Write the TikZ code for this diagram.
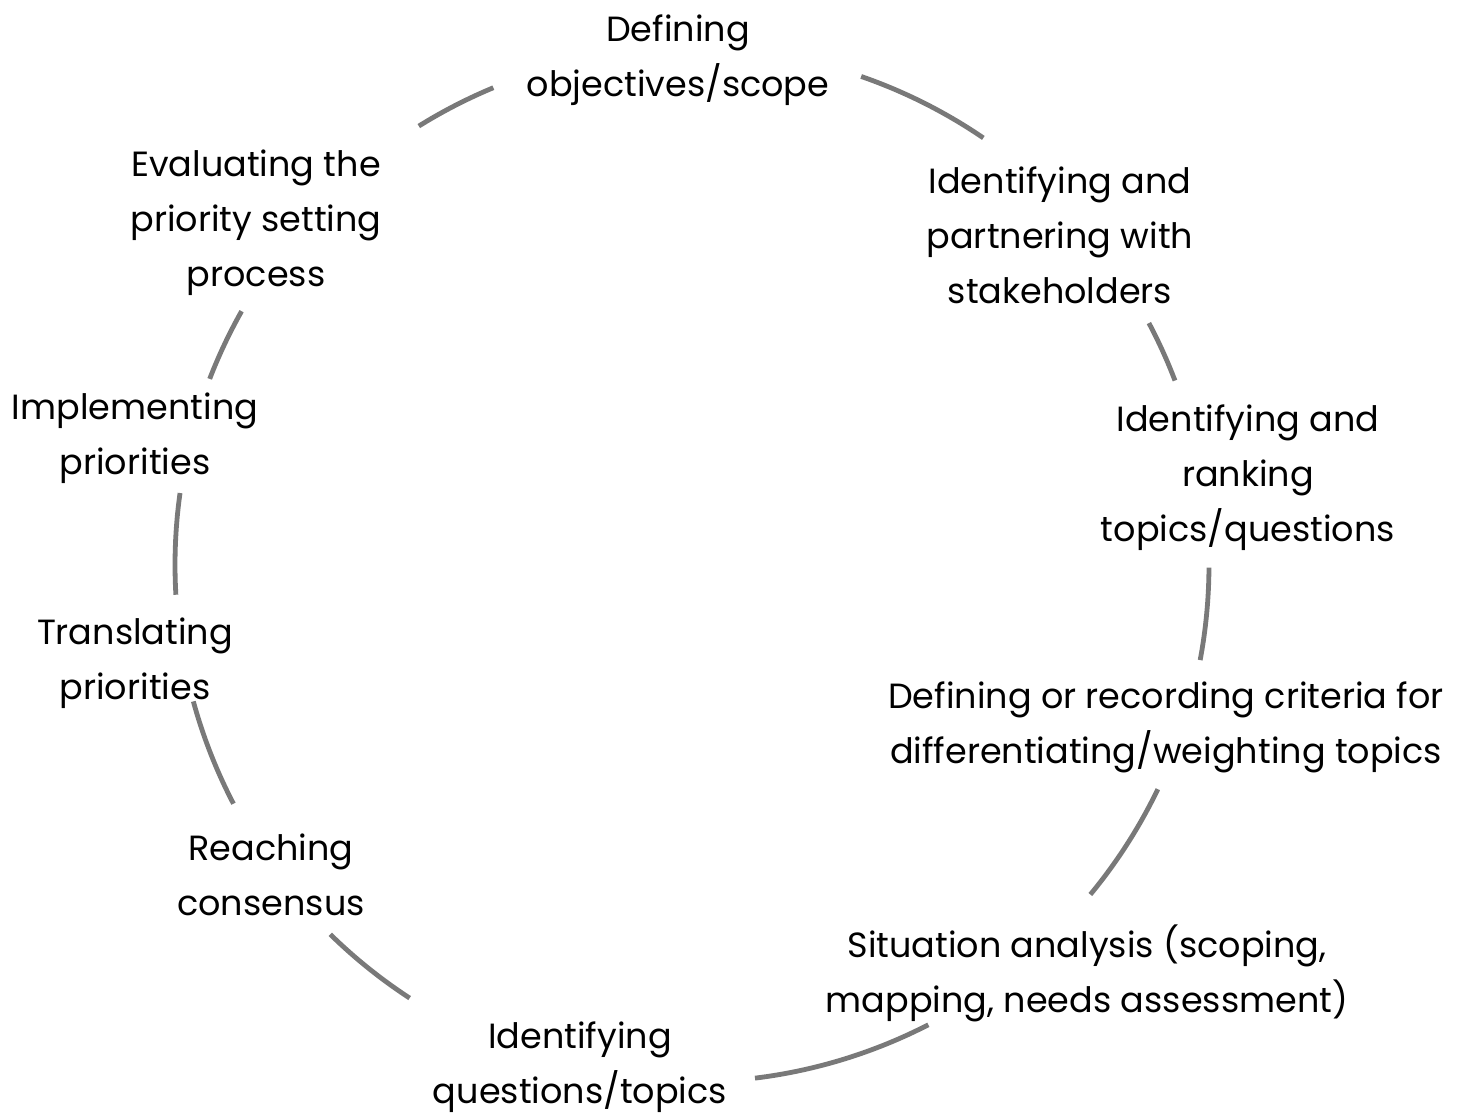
\documentclass[tikz,border=0pt]{standalone}
\usepackage{fontspec}
\setmainfont{Poppins}
\begin{document}
\begin{tikzpicture}[x=1pt,y=1pt,
  lbl/.style={align=center,font=\fontsize{35}{55}\selectfont,inner sep=0pt,text=black},
  seg/.style={draw=gray!95!black,line width=4.8pt}]
\useasboundingbox (0,0) rectangle (1468,1113);
\coordinate (c) at (692,548);
\def\R{517}
\node[lbl] (def) at (678,1053) {Defining\\objectives/scope};
\node[lbl] (part) at (1060,878) {Identifying and\\partnering with\\stakeholders};
\node[lbl] (rank) at (1248,635) {Identifying and\\ranking\\topics/questions};
\node[lbl] (crit) at (1166,386) {Defining or recording criteria for\\differentiating/weighting topics};
\node[lbl] (sit) at (1087,140) {Situation analysis (scoping,\\mapping, needs assessment)};
\node[lbl] (ques) at (580,46) {Identifying\\questions/topics};
\node[lbl] (reach) at (271,238) {Reaching\\consensus};
\node[lbl] (trans) at (135,450) {Translating\\priorities};
\node[lbl] (impl) at (135,675) {Implementing\\priorities};
\node[lbl] (eval) at (256,890) {Evaluating the\\priority setting\\process};
\foreach \a/\b in {112.6/121.9, 70.9/55.7, 27.9/20.9, -0.3/-10.6, -25.7/-39.6,
                   -62.8/-83.0, -123.1/-134.4, -152.5/-164.7, -176.7/-188.0, -201.1/-209.4}
  \draw[seg] (c) ++(\a:\R) arc[start angle=\a, end angle=\b, radius=\R];
\end{tikzpicture}
\end{document}
